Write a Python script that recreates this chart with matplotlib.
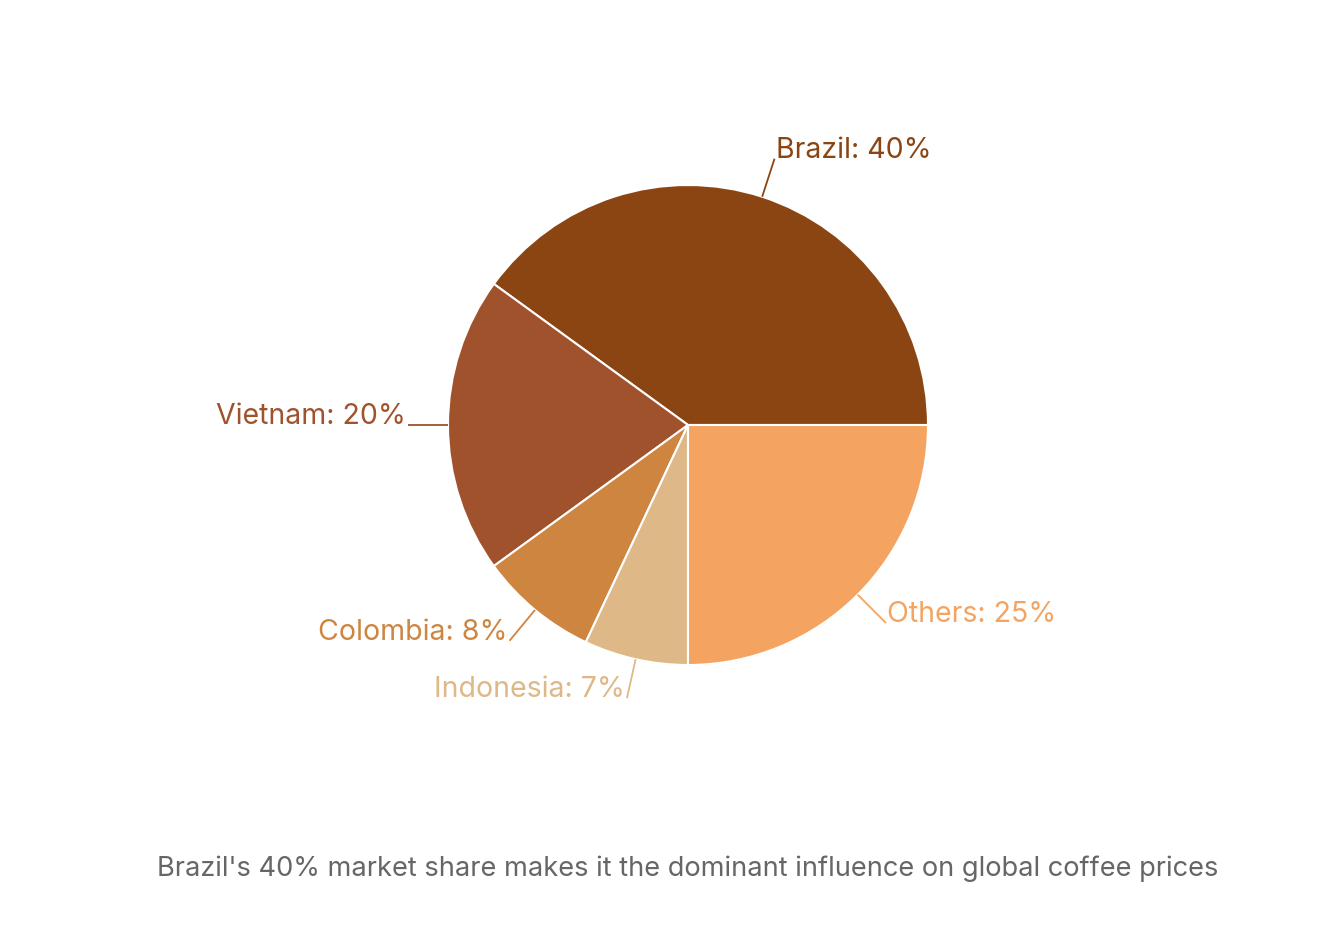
import matplotlib
matplotlib.use("Agg")
import matplotlib.pyplot as plt
import numpy as np

countries = ["Brazil", "Vietnam", "Colombia", "Indonesia", "Others"]
shares = [40, 20, 8, 7, 25]
colors = ["#8B4513", "#A0522D", "#CD853F", "#DEB887", "#F4A460"]
caption = "Brazil's 40% market share makes it the dominant influence on global coffee prices"

plt.rcParams["font.family"] = ["Inter", "DejaVu Sans"]

W, H = 1324, 927
fig = plt.figure(figsize=(W / 100, H / 100), dpi=100)
ax = fig.add_axes([0, 0, 1, 1])
ax.set_xlim(0, W)
ax.set_ylim(0, H)
ax.set_aspect("equal")
ax.axis("off")

cx, cy, r = 688, H - 425, 240
wedges, _ = ax.pie(shares, colors=colors, startangle=0, counterclock=True,
                   center=(cx, cy), radius=r,
                   wedgeprops=dict(edgecolor="white", linewidth=1.5))
ax.set_xlim(0, W)
ax.set_ylim(0, H)

# radial leader line from the rim, label sits on the end of it
for w, name, val, col in zip(wedges, countries, shares, colors):
    mid = np.deg2rad((w.theta1 + w.theta2) / 2)
    x0, y0 = cx + r * np.cos(mid), cy + r * np.sin(mid)
    x1, y1 = cx + 280 * np.cos(mid), cy + 280 * np.sin(mid)
    ax.plot([x0, x1], [y0, y1], color=col, lw=1.3, solid_capstyle="butt")
    ha = "left" if np.cos(mid) >= 0 else "right"
    ax.text(x1 + (1 if ha == "left" else -2), y1 + 1, f"{name}: {val}%",
            ha=ha, va="baseline", fontsize=20.5, color=col)

ax.text(688, H - 869, caption, ha="center", va="center",
        fontsize=19.6, color="#666666")

fig.savefig("out.png", dpi=100)
